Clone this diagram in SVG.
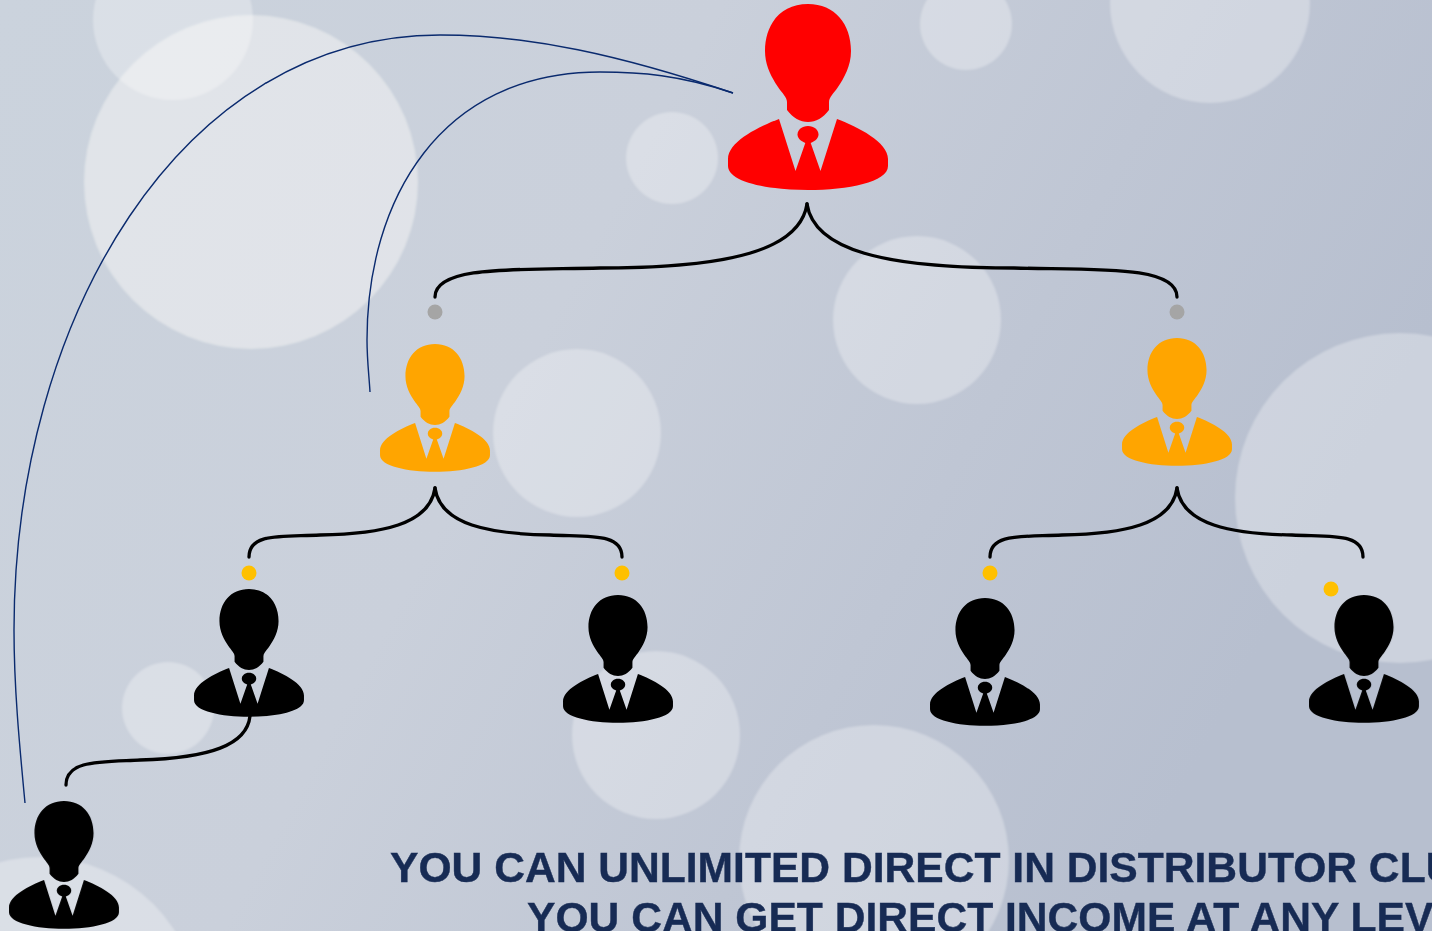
<svg xmlns="http://www.w3.org/2000/svg" width="1432" height="931" viewBox="0 0 1432 931">
<style>
.bub{fill:#fff;opacity:.3}
.big{fill:#fffdfb;opacity:.42}
.brace{fill:none;stroke:#000;stroke-width:3.3;stroke-linecap:round}
.thin{fill:none;stroke:#0a2a6e;stroke-width:1.4}
.t{font-family:"Liberation Sans",Arial,sans-serif;font-weight:bold;fill:#172b54;stroke:#172b54;stroke-width:.4;font-size:42.6px}
</style>
<defs>
<linearGradient id="bg" x1="0" y1="0" x2="1" y2="0.35">
<stop offset="0" stop-color="#cbd3dd"/><stop offset=".45" stop-color="#cad0db"/><stop offset=".75" stop-color="#bfc6d4"/><stop offset="1" stop-color="#b7bfcf"/>
</linearGradient>
<filter id="soft" x="-5%" y="-5%" width="110%" height="110%"><feGaussianBlur stdDeviation="1"/></filter>
<symbol id="p" viewBox="-80 0 160 187" overflow="visible">
<path d="M0 0C27 0 43 20 43 47C43 62 36 74 30 83C26 89 21 93 21 98V106C15 114 8 118 0 118C-8 118 -15 114 -21 106V98C-21 93 -26 89 -30 83C-36 74 -43 62 -43 47C-43 20 -27 0 0 0Z"/>
<path d="M-29 115C-50 123 -80 138 -80 155V162C-80 178 -40 186 0 186C40 186 80 178 80 162V155C80 138 50 123 29 115L12.500 167L2 137H-2L-12.500 167Z"/>
<path d="M0 122C6 122 10.500 126 10.500 130.500C10.500 135 6 138 0 140C-6 138 -10.500 135 -10.500 130.500C-10.500 126 -6 122 0 122Z"/>
</symbol>
</defs>
<rect width="1432" height="931" fill="url(#bg)"/>
<g id="bubbles" filter="url(#soft)">
<circle class="bub" cx="173" cy="20" r="80"/>
<circle class="big" cx="251" cy="182" r="167"/>
<circle class="bub" cx="672" cy="158" r="46"/>
<circle class="bub" cx="966" cy="24" r="46"/>
<circle class="bub" cx="1210" cy="3" r="100"/>
<circle class="bub" cx="917" cy="320" r="84"/>
<circle class="bub" cx="577" cy="433" r="84"/>
<circle class="bub" cx="1400" cy="498" r="165"/>
<circle class="bub" cx="168" cy="708" r="46"/>
<circle class="bub" cx="656" cy="735" r="84"/>
<circle class="bub" cx="874" cy="860" r="135"/>
<circle class="bub" cx="40" cy="1017" r="160"/>
</g>
<g id="connectors">
<path class="thin" d="M733 93C620 55 530 35 440 35C180 35 14 320 14 630C14 690 20 750 25 803"/>
<path class="thin" d="M733 93C680 75 640 72 600 72C440 72 367 200 367 340C367 360 369 375 370 392"/>
<path class="brace" d="M807 204C800 250 730 268 600 268C520 270 435 265 435 297"/>
<path class="brace" d="M807 204C814 250 884 268 1014 268C1094 270 1177 265 1177 297"/>
<path class="brace" d="M435 488C430 525 380 534 320 535C280 537 249 533 249 557"/>
<path class="brace" d="M435 488C440 525 490 534 550 535C590 537 622 533 622 557"/>
<path class="brace" d="M1177 488C1172 525 1122 534 1062 535C1022 537 990 533 990 557"/>
<path class="brace" d="M1177 488C1182 525 1232 534 1292 535C1332 537 1363 533 1363 557"/>
<path class="brace" d="M250 716C247 745 210 758 140 760C100 762 66 760 66 785"/>
</g>
<g id="dots">
<circle cx="435" cy="312" r="7.500" fill="#a5a5a5"/>
<circle cx="1177" cy="312" r="7.500" fill="#a5a5a5"/>
<circle cx="249" cy="573" r="7.500" fill="#ffc000"/>
<circle cx="622" cy="573" r="7.500" fill="#ffc000"/>
<circle cx="990" cy="573" r="7.500" fill="#ffc000"/>
<circle cx="1331" cy="589" r="7.500" fill="#ffc000"/>
</g>
<g id="node-red" fill="#ff0000"><use href="#p" x="728" y="4" width="160" height="187"/></g>
<g id="node-orange-left" fill="#ffa500"><use href="#p" x="380" y="344" width="110" height="128.500"/></g>
<g id="node-orange-right" fill="#ffa500"><use href="#p" x="1122" y="338" width="110" height="128.500"/></g>
<g id="node-black-1" fill="#000"><use href="#p" x="194" y="589" width="110" height="128.500"/></g>
<g id="node-black-2" fill="#000"><use href="#p" x="563" y="595" width="110" height="128.500"/></g>
<g id="node-black-3" fill="#000"><use href="#p" x="930" y="598" width="110" height="128.500"/></g>
<g id="node-black-4" fill="#000"><use href="#p" x="1309" y="595" width="110" height="128.500"/></g>
<g id="node-black-5" fill="#000"><use href="#p" x="9" y="801" width="110" height="128.500"/></g>
<g id="caption">
<text class="t" x="390" y="882">YOU CAN UNLIMITED DIRECT IN DISTRIBUTOR CLU</text>
<text class="t" x="527" y="932">YOU CAN GET DIRECT INCOME AT ANY LEV</text>
</g>
</svg>
